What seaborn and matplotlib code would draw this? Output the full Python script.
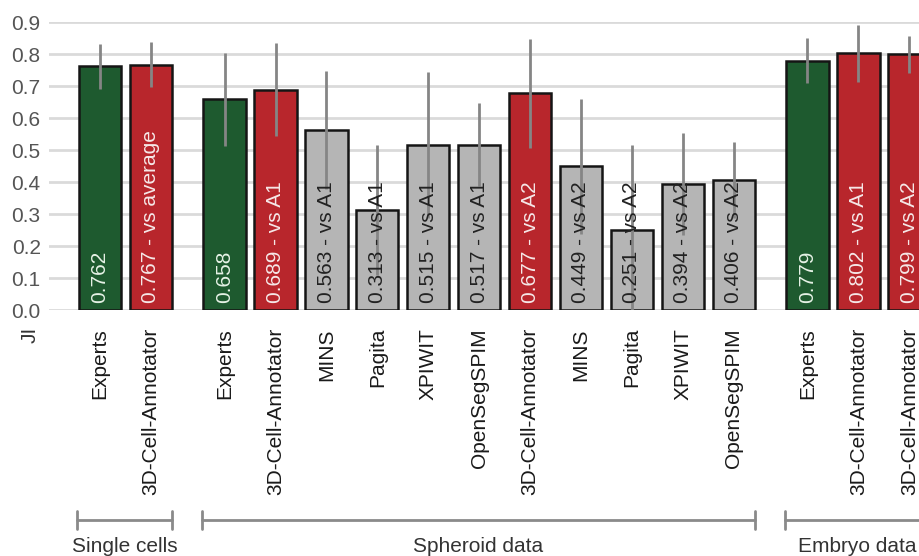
import numpy as np
import pandas as pd
import seaborn as sns
import matplotlib.pyplot as plt
import matplotlib.transforms as mtransforms

# values
groups = ['Single cells', 'Spheroid data', 'Embryo data']
group_sizes = [2, 11, 3]
methods = ['Experts', '3D-Cell-Annotator',
           'Experts', '3D-Cell-Annotator', 'MINS', 'Pagita', 'XPIWIT', 'OpenSegSPIM',
           '3D-Cell-Annotator', 'MINS', 'Pagita', 'XPIWIT', 'OpenSegSPIM',
           'Experts', '3D-Cell-Annotator', '3D-Cell-Annotator']
kinds = ['expert', 'ours',
         'expert', 'ours', 'other', 'other', 'other', 'other',
         'ours', 'other', 'other', 'other', 'other',
         'expert', 'ours', 'ours']
suffix = ['', ' - vs average',
          '', ' - vs A1', ' - vs A1', ' - vs A1', ' - vs A1', ' - vs A1',
          ' - vs A2', ' - vs A2', ' - vs A2', ' - vs A2', ' - vs A2',
          '', ' - vs A1', ' - vs A2']
ji = [0.762, 0.767,
      0.658, 0.689, 0.563, 0.313, 0.515, 0.517,
      0.677, 0.449, 0.251, 0.394, 0.406,
      0.779, 0.802, 0.799]
ji_sd = [0.07, 0.07,
         0.146, 0.145, 0.185, 0.204, 0.229, 0.131,
         0.17, 0.211, 0.266, 0.16, 0.12,
         0.07, 0.09, 0.058]

palette = {'expert': '#1e5a2f', 'ours': '#b8262c', 'other': '#b5b5b5'}
text_colors = {'expert': '#e6f2e6', 'ours': '#f6e8e8', 'other': '#222222'}

# x positions: bar slots with an extra gap between groups
group_gap = 0.45
group_idx = np.repeat(np.arange(len(groups)), group_sizes)
pos = np.arange(len(ji)) + group_gap * group_idx

df = pd.DataFrame({'pos': pos, 'ji': ji, 'kind': kinds})

sns.set_style('white')
plt.rcParams['font.family'] = ['Liberation Sans', 'DejaVu Sans']

fig = plt.figure(figsize=(9.2, 5.56), dpi=100)
ax = fig.add_axes([49 / 920, 246 / 556, 1 - 49 / 920, 288 / 556])

sns.barplot(data=df, x='pos', y='ji', hue='kind', palette=palette, native_scale=True,
            width=0.83, saturation=1, edgecolor='#151515', linewidth=1.8, errorbar=None,
            legend=False, ax=ax, zorder=2)
ax.errorbar(pos, ji, yerr=ji_sd, fmt='none', ecolor='#858585', elinewidth=2, capsize=0, zorder=4)

for x, v, k, s in zip(pos, ji, kinds, suffix):
    ax.text(x, 0.022, f'{v:.3f}{s}', rotation=90, ha='center', va='bottom',
            fontsize=15, color=text_colors[k], zorder=5)

ax.set_xlim(-1.0, (920 - 100) / 50.9)
ax.set_ylim(0, 0.9)
ax.set_yticks(np.arange(0, 0.91, 0.1))
ax.set_yticklabels([f'{t:.1f}' for t in np.arange(0, 0.91, 0.1)], fontsize=15, color='#555555')
ax.set_xticks(pos)
ax.set_xticklabels(methods, rotation=90, fontsize=15, color='#1a1a1a', va='top', ha='center')
ax.tick_params(axis='x', length=0, pad=13)
ax.tick_params(axis='y', length=0, pad=6)
ax.set_xlabel('')
ax.set_ylabel('')
ax.yaxis.grid(True, color='#dadada', linewidth=2)
ax.set_axisbelow(True)
sns.despine(ax=ax, left=True, bottom=True)

fig.text(30 / 920, 1 - 335 / 556, 'JI', rotation=90, ha='center', va='center',
         fontsize=15, color='#333333')

# group brackets below the tick labels
trans = mtransforms.blended_transform_factory(ax.transData, fig.transFigure)
y_line = 1 - 520 / 556
tick_h = 9 / 556
y_text = 1 - 546 / 556
start = 0
for name, n in zip(groups, group_sizes):
    x0 = pos[start] - 0.45
    x1 = pos[start + n - 1] + 0.42
    ax.plot([x0, x1], [y_line, y_line], transform=trans, color='#8a8a8a', lw=2, clip_on=False)
    for xe in (x0, x1):
        ax.plot([xe, xe], [y_line - tick_h, y_line + tick_h], transform=trans,
                color='#8a8a8a', lw=2, clip_on=False)
    ax.text((x0 + x1) / 2, y_text, name, transform=trans, ha='center', va='center',
            fontsize=15, color='#333333')
    start += n

fig.savefig('out.png', dpi=100, facecolor='white')
